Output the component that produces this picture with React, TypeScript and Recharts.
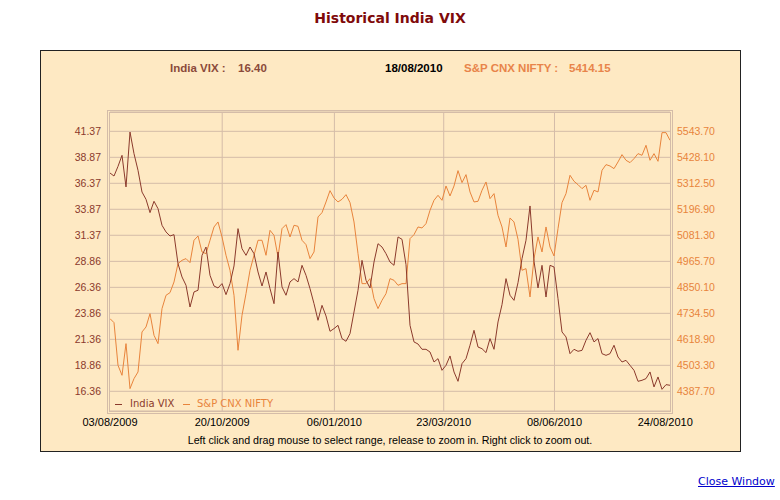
import { LineChart, Line, XAxis, YAxis, CartesianGrid, ReferenceLine } from "recharts";

const VIX = [
  37.36, 37.07, 38.0, 39.06, 36.02, 41.3, 39.22, 37.62, 35.53, 34.83, 33.55, 34.64, 33.93, 32.33, 31.69,
  31.3, 31.43, 28.64, 27.36, 26.56, 24.47, 25.92, 26.08, 29.44, 30.24, 27.52, 26.49, 26.3, 26.72, 25.66,
  26.72, 28.42, 32.01, 30.08, 29.44,
  30.24, 29.6, 27.84, 26.49, 27.84, 26.24, 24.79, 29.76, 26.4, 25.6, 26.88, 27.2, 26.88, 28.48, 27.52,
  26.24, 24.79, 23.19, 24.63, 23.61, 22.13, 22.39, 22.71, 21.43, 21.17, 21.91, 23.99, 26.08, 28.96, 27.04,
  26.3, 28.8, 30.56, 30.24, 29.6,
  28.8, 28.48, 31.21, 30.98, 28.54, 22.71, 21.11, 20.91, 20.4, 20.4, 20.14, 19.18, 19.5, 18.38, 18.86,
  19.76, 18.22, 17.32, 19.02, 19.5, 20.79, 22.23, 20.62, 20.46, 20.08, 21.43, 20.4, 23.03, 24.7, 27.2,
  25.6, 25.11, 26.81, 29.12, 30.89,
  34.19, 28.87, 26.3, 28.48, 25.43, 28.48, 28.32, 25.27, 22.07, 21.59, 19.98, 20.4, 20.21, 20.3, 21.27,
  22.0, 21.11, 21.43, 19.98, 19.82, 19.98, 20.79, 19.66, 19.18, 19.34, 18.86, 18.38, 17.32, 17.42, 17.58,
  18.22, 16.78, 17.74, 16.55, 17.0, 16.94,
];

const NIFTY = [
  4710.8, 4693.0, 4503.3, 4458.8, 4599.6, 4399.6, 4444.0, 4473.7, 4651.5, 4673.7, 4733.0, 4636.7, 4599.6,
  4755.3, 4814.5, 4826.4, 4873.8, 4955.3, 4970.1, 4977.6, 4959.8, 5059.1, 5078.3, 5007.2, 4999.8, 5059.1,
  5118.3, 5140.6, 5073.9, 4992.4, 4925.7, 4814.5, 4570.0, 4725.6, 4821.9,
  4925.7, 4992.4, 5059.1, 5059.1, 4992.4, 5103.5, 5081.3, 4985.0, 5110.9, 5128.7, 5073.9, 5125.8, 5121.3,
  5059.1, 5039.8, 4977.6, 5007.2, 5162.8, 5182.1, 5229.5, 5279.9, 5247.3, 5229.5, 5241.4, 5262.1, 5226.5,
  5140.6, 4999.8, 4866.4, 4866.4, 4888.6, 4799.7, 4755.3, 4792.3, 4821.9,
  4888.6, 4881.2, 4859.0, 4866.4, 4866.4, 5066.5, 5084.3, 5118.3, 5113.9, 5133.2, 5192.5, 5236.9, 5259.2,
  5236.9, 5300.6, 5256.2, 5300.6, 5368.8, 5315.5, 5351.0, 5274.0, 5229.5, 5232.5, 5281.4, 5318.4, 5244.3,
  5266.6, 5170.2, 5118.3, 5029.4, 5158.4, 5140.6, 5063.5, 4925.7, 4933.1,
  4807.1, 4977.6, 5073.9, 5007.2, 5118.3, 5029.4, 4989.4, 5110.9, 5226.5, 5266.6, 5348.1, 5321.4, 5306.6,
  5288.8, 5303.6, 5236.9, 5281.4, 5274.0, 5370.3, 5395.5, 5389.6, 5377.7, 5407.4, 5440.0, 5414.8, 5404.4,
  5422.2, 5444.4, 5437.0, 5481.5, 5414.8, 5444.4, 5410.3, 5537.8, 5537.8, 5503.7,
];

const DATE_LABELS = ["03/08/2009", "20/10/2009", "06/01/2010", "23/03/2010", "08/06/2010", "24/08/2010"];
const VIX_TICKS = [16.36, 18.86, 21.36, 23.86, 26.36, 28.86, 31.37, 33.87, 36.37, 38.87, 41.37];
const NIFTY_TICKS = [4387.7, 4503.3, 4618.9, 4734.5, 4850.1, 4965.7, 5081.3, 5196.9, 5312.5, 5428.1, 5543.7];

const LAST_DAY = 389.3;

function dayOf(label: string) {
  const [d, m, y] = label.split("/").map(Number);
  return (Date.UTC(y, m - 1, d) - Date.UTC(2009, 7, 3)) / 86400000;
}

const TICK_DAYS = DATE_LABELS.map(dayOf);

const DATA = VIX.map((v, i) => ({
  day: (i * LAST_DAY) / (VIX.length - 1),
  vix: v,
  nifty: NIFTY[i],
}));

const VIX_COLOR = "#8b3a2c";
const NIFTY_COLOR = "#e8843c";
const GRID = "#d4bca8";
const PANEL = "#fee9c3";

const abs = (left: number, top: number, extra: React.CSSProperties = {}): React.CSSProperties => ({
  position: "absolute",
  left,
  top,
  whiteSpace: "nowrap",
  ...extra,
});

const headFont: React.CSSProperties = {
  fontFamily: "'Liberation Sans', Arial, sans-serif",
  fontSize: 11.5,
  fontWeight: 700,
  lineHeight: "16px",
};

export default function App() {
  return (
    <div style={{ position: "absolute", left: 0, top: 0, width: 780, height: 500, background: "#fff" }}>
      <div
        style={abs(0, 9, {
          width: 780,
          textAlign: "center",
          fontFamily: "'DejaVu Sans', Verdana, sans-serif",
          fontSize: 14,
          fontWeight: 700,
          lineHeight: "18px",
          color: "#7f0a0a",
        })}
      >
        Historical India VIX
      </div>

      <div
        style={abs(40, 50, {
          width: 701,
          height: 402,
          boxSizing: "border-box",
          border: "1px solid #222",
          background: PANEL,
        })}
      />

      <div style={abs(170, 60, { ...headFont, color: "#8b4a3a" })}>India VIX :</div>
      <div style={abs(238, 60, { ...headFont, color: "#8b4a3a" })}>16.40</div>
      <div style={abs(385, 60, { ...headFont, color: "#000" })}>18/08/2010</div>
      <div style={abs(464, 60, { ...headFont, color: "#e8844a" })}>S&amp;P CNX NIFTY :</div>
      <div style={abs(569, 60, { ...headFont, color: "#e8844a" })}>5414.15</div>

      <div
        style={abs(107, 110, {
          width: 566,
          height: 304,
          boxSizing: "border-box",
          border: `1px solid ${GRID}`,
        })}
      />
      <div
        style={abs(109, 112, {
          width: 562,
          height: 300,
          boxSizing: "border-box",
          border: `1px solid ${GRID}`,
        })}
      />

      <div style={{ position: "absolute", left: 0, top: 0 }}>
        <LineChart width={780} height={500} data={DATA} margin={{ top: 112, right: 50, bottom: 59, left: 50 }}>
          <CartesianGrid yAxisId="vix" vertical={false} stroke={GRID} strokeWidth={1} />
          {TICK_DAYS.slice(1, -1).map((d) => (
            <ReferenceLine key={d} x={d} yAxisId="vix" stroke={GRID} strokeWidth={1} />
          ))}
          <XAxis
            dataKey="day"
            type="number"
            domain={[0, LAST_DAY]}
            allowDataOverflow
            ticks={TICK_DAYS}
            tickFormatter={(d: number) => DATE_LABELS[TICK_DAYS.indexOf(d)] ?? ""}
            axisLine={false}
            tickLine={false}
            tickSize={0}
            tickMargin={7}
            height={30}
            interval={0}
            tick={{ fontSize: 11, fill: "#000", fontFamily: "'Liberation Sans', Arial, sans-serif" }}
          />
          <YAxis
            yAxisId="vix"
            orientation="left"
            width={60}
            domain={[14.465, 43.23]}
            allowDataOverflow
            ticks={VIX_TICKS}
            interval={0}
            tickFormatter={(v: number) => v.toFixed(2)}
            axisLine={false}
            tickLine={false}
            tickSize={0}
            tickMargin={9}
            tick={{ fontSize: 10.5, fill: VIX_COLOR, fontFamily: "'Liberation Sans', Arial, sans-serif" }}
          />
          <YAxis
            yAxisId="nifty"
            orientation="right"
            width={60}
            domain={[4300.1, 5629.5]}
            allowDataOverflow
            ticks={NIFTY_TICKS}
            interval={0}
            tickFormatter={(v: number) => v.toFixed(2)}
            axisLine={false}
            tickLine={false}
            tickSize={0}
            tickMargin={7}
            tick={{ fontSize: 10.5, fill: NIFTY_COLOR, fontFamily: "'Liberation Sans', Arial, sans-serif" }}
          />
          <Line
            yAxisId="nifty"
            type="linear"
            dataKey="nifty"
            stroke={NIFTY_COLOR}
            strokeWidth={1}
            dot={false}
            isAnimationActive={false}
          />
          <Line
            yAxisId="vix"
            type="linear"
            dataKey="vix"
            stroke={VIX_COLOR}
            strokeWidth={1}
            dot={false}
            isAnimationActive={false}
          />
        </LineChart>
      </div>

      <div style={abs(115, 404, { width: 7, height: 1, background: VIX_COLOR })} />
      <div
        style={abs(130, 397, {
          fontFamily: "'DejaVu Sans', Verdana, sans-serif",
          fontSize: 10,
          lineHeight: "14px",
          color: VIX_COLOR,
        })}
      >
        India VIX
      </div>
      <div style={abs(183, 404, { width: 7, height: 1, background: NIFTY_COLOR })} />
      <div
        style={abs(197, 397, {
          fontFamily: "'DejaVu Sans', Verdana, sans-serif",
          fontSize: 10,
          lineHeight: "14px",
          color: NIFTY_COLOR,
        })}
      >
        S&amp;P CNX NIFTY
      </div>

      <div
        style={abs(0, 433, {
          width: 780,
          textAlign: "center",
          fontFamily: "'Liberation Sans', Arial, sans-serif",
          fontSize: 10.7,
          lineHeight: "14px",
          color: "#000",
        })}
      >
        Left click and drag mouse to select range, release to zoom in. Right click to zoom out.
      </div>

      <a
        href="#"
        style={abs(698, 475, {
          fontFamily: "'DejaVu Sans', Verdana, sans-serif",
          fontSize: 11,
          lineHeight: "14px",
          color: "#0000cc",
          textDecoration: "underline",
        })}
      >
        Close Window
      </a>
    </div>
  );
}
